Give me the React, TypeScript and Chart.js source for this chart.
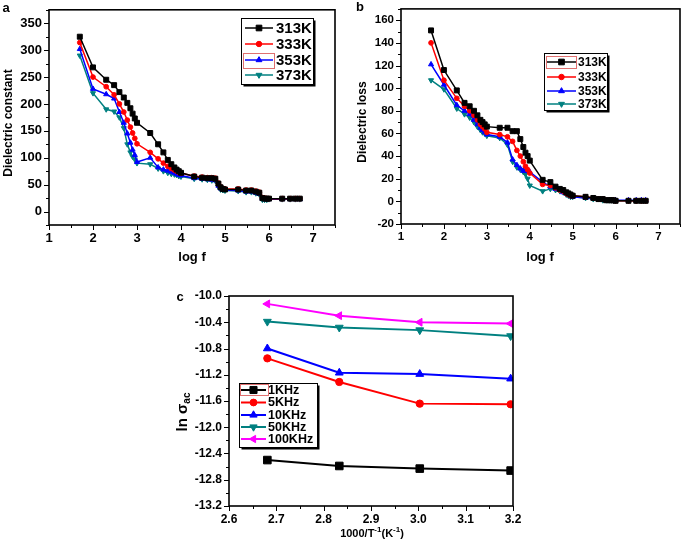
import React, { useEffect, useRef } from "react";
import { Chart, registerables } from "chart.js";
Chart.register(...registerables);

const FF = "'Liberation Sans', Arial, Helvetica, sans-serif";

// ---------- data ----------
const logF = [1.70, 2.00, 2.30, 2.48, 2.60, 2.70, 2.78, 2.85, 2.90, 2.95, 3.00, 3.30, 3.48, 3.60, 3.70, 3.78, 3.85, 3.90, 3.95, 4.00, 4.30, 4.48, 4.60, 4.70, 4.78, 4.85, 4.90, 4.95, 5.00, 5.30, 5.48, 5.60, 5.70, 5.78, 5.85, 5.90, 5.95, 6.00, 6.30, 6.48, 6.60, 6.70];

const dc313 = [325, 268, 245, 235, 222, 212, 202, 192, 182, 173, 165, 146, 125, 110, 96, 88, 82, 78, 75, 72, 65, 63, 62, 62, 61, 52, 45, 42, 41, 41, 39, 39, 37, 35, 25, 24, 24, 24, 24, 24, 24, 24];
const dc333 = [314, 250, 232, 217, 200, 185, 170, 157, 146, 136, 126, 110, 98, 90, 84, 80, 77, 75, 73, 71, 66, 64, 63, 63, 62, 53, 46, 43, 42, 42, 40, 40, 38, 36, 26, 25, 24, 24, 24, 24, 24, 24];
const dc353 = [302, 228, 218, 210, 185, 165, 145, 128, 115, 105, 92, 100, 82, 78, 76, 74, 72, 70, 68, 67, 62, 61, 60, 59, 58, 48, 43, 41, 40, 39, 37, 37, 35, 33, 24, 23, 23, 23, 23, 23, 23, 23];
const dc373 = [290, 220, 190, 186, 175, 155, 125, 110, 102, 97, 90, 88, 80, 75, 72, 70, 69, 68, 66, 65, 61, 60, 59, 58, 57, 46, 41, 40, 39, 38, 36, 36, 34, 32, 22, 22, 22, 23, 23, 23, 23, 23];

const dl313 = [151, 116, 98, 87, 84, 80, 76, 72, 70, 68, 66, 65, 65, 62, 62, 55, 48, 43, 40, 36, 19, 17, 13, 11, 10, 8, 7, 6, 5, 4, 3, 2, 2, 1, 1, 1, 1, 0.5, 0.5, 0.5, 0.5, 0.5];
const dl333 = [140, 107, 91, 84, 80, 76, 72, 68, 66, 64, 61, 59, 57, 53, 45, 40, 35, 31, 28, 25, 15, 14, 12, 10, 9, 7, 6, 5, 5, 4, 3, 2, 2, 1, 1, 1, 1, 0.5, 0.5, 0.5, 0.5, 0.5];
const dl353 = [121, 103, 85, 80, 77, 72, 68, 65, 63, 61, 59, 57, 52, 37, 32, 29, 27, 27, 27, 26, 17, 13, 11, 10, 8, 7, 6, 5, 4, 3, 3, 2, 2, 1, 1, 1, 1, 1, 1, 1, 1, 1];
const dl373 = [107, 99, 82, 77, 74, 70, 66, 63, 61, 60, 58, 56, 50, 35, 30, 28, 26, 24, 20, 14, 9, 11, 10, 9, 8, 6, 5, 4, 4, 3, 2, 2, 1, 1, 1, 1, 1, 0.5, 0.5, 0.5, 0.5, 0.5];

const tempLabels = ["313K", "333K", "353K", "373K"];

const invT = [2.681, 2.833, 3.003, 3.195];
const ac1k = [-12.50, -12.59, -12.63, -12.66];
const ac5k = [-10.95, -11.31, -11.64, -11.65];
const ac10k = [-10.80, -11.17, -11.19, -11.26];
const ac50k = [-10.39, -10.48, -10.52, -10.61];
const ac100k = [-10.12, -10.30, -10.40, -10.42];
const freqLabels = ["1KHz", "5KHz", "10KHz", "50KHz", "100KHz"];

// ---------- styles ----------
const COLORS4 = ["#000000", "#ff0000", "#0000ff", "#008080"];
const STYLES4: [string, number][] = [["rect", 0], ["circle", 0], ["triangle", 0], ["triangle", 180]];
const COLORS5 = ["#000000", "#ff0000", "#0000ff", "#008080", "#ff00ff"];
const STYLES5: [string, number][] = [["rect", 0], ["circle", 0], ["triangle", 0], ["triangle", 180], ["triangle", 270]];
const STYLE_SCALE: Record<string, number> = { rect: 1.25, circle: 0.85, triangle: 1.05 };

type Seg = { t: string; size: number; dy?: number };
type TextItem = { segs: Seg[]; x: number; y: number; rot?: number };
type LegendCfg = {
  box: [number, number, number, number];
  rows: number[];
  x0: number;
  x1: number;
  textX: number;
  fontSize: number;
  lw: number;
  r: number;
  hl?: [number, number, number, number];
};
type DecorCfg = { texts: TextItem[]; legend: LegendCfg };

function drawRich(ctx: CanvasRenderingContext2D, segs: Seg[], x: number, y: number, rot: number) {
  ctx.save();
  ctx.translate(x, y);
  ctx.rotate(rot);
  ctx.textBaseline = "middle";
  ctx.textAlign = "left";
  let total = 0;
  const widths = segs.map((s) => {
    ctx.font = `bold ${s.size}px ${FF}`;
    const w = ctx.measureText(s.t).width;
    total += w;
    return w;
  });
  let cx = -total / 2;
  segs.forEach((s, i) => {
    ctx.font = `bold ${s.size}px ${FF}`;
    ctx.fillStyle = "#000";
    ctx.fillText(s.t, cx, s.dy || 0);
    cx += widths[i];
  });
  ctx.restore();
}

function marker(ctx: CanvasRenderingContext2D, style: string, rotDeg: number, x: number, y: number, r: number, color: string) {
  ctx.save();
  ctx.fillStyle = color;
  ctx.strokeStyle = color;
  ctx.lineWidth = 1;
  ctx.beginPath();
  if (style === "rect") {
    const s = r * Math.SQRT1_2;
    ctx.rect(x - s, y - s, 2 * s, 2 * s);
  } else if (style === "circle") {
    ctx.arc(x, y, r, 0, Math.PI * 2);
  } else {
    let rad = (rotDeg * Math.PI) / 180;
    ctx.moveTo(x + Math.sin(rad) * r, y - Math.cos(rad) * r);
    rad += (2 * Math.PI) / 3;
    ctx.lineTo(x + Math.sin(rad) * r, y - Math.cos(rad) * r);
    rad += (2 * Math.PI) / 3;
    ctx.lineTo(x + Math.sin(rad) * r, y - Math.cos(rad) * r);
    ctx.closePath();
  }
  ctx.fill();
  ctx.stroke();
  ctx.restore();
}

function decor(cfg: DecorCfg) {
  return {
    id: "decor",
    afterDraw(chart: any) {
      const ctx: CanvasRenderingContext2D = chart.ctx;
      const { left, right, top, bottom } = chart.chartArea;
      ctx.save();
      // ticks
      ctx.strokeStyle = "#000";
      ctx.lineWidth = 1;
      const xs = chart.scales.x;
      const ys = chart.scales.y;
      xs.ticks.forEach((t: any) => {
        const px = Math.round(xs.getPixelForValue(t.value)) + 0.5;
        const len = t.label !== "" ? 5 : 3;
        ctx.beginPath();
        ctx.moveTo(px, bottom);
        ctx.lineTo(px, bottom + len);
        ctx.stroke();
      });
      ys.ticks.forEach((t: any) => {
        const py = Math.round(ys.getPixelForValue(t.value)) + 0.5;
        const len = t.label !== "" ? 5 : 3;
        ctx.beginPath();
        ctx.moveTo(left, py);
        ctx.lineTo(left - len, py);
        ctx.stroke();
      });
      // frame
      ctx.lineWidth = 1.6;
      ctx.strokeRect(left, top, right - left, bottom - top);

      // legend
      const L = cfg.legend;
      const [bx, by, bw, bh] = L.box;
      ctx.fillStyle = "#000";
      ctx.fillRect(bx + 2.5, by + 2.5, bw, bh);
      ctx.fillStyle = "#fff";
      ctx.fillRect(bx, by, bw, bh);
      ctx.strokeStyle = "#000";
      ctx.lineWidth = 1;
      ctx.strokeRect(bx + 0.5, by + 0.5, bw, bh);
      chart.data.datasets.forEach((ds: any, i: number) => {
        const ry = L.rows[i];
        ctx.strokeStyle = ds.borderColor;
        ctx.lineWidth = L.lw;
        ctx.beginPath();
        ctx.moveTo(L.x0, ry);
        ctx.lineTo(L.x1, ry);
        ctx.stroke();
        const rr = L.r * (STYLE_SCALE[ds.pointStyle] || 1);
        marker(ctx, ds.pointStyle, ds.pointRotation || 0, (L.x0 + L.x1) / 2, ry, rr, ds.borderColor);
        ctx.fillStyle = "#000";
        ctx.font = `bold ${L.fontSize}px ${FF}`;
        ctx.textBaseline = "middle";
        ctx.textAlign = "left";
        ctx.fillText(ds.label, L.textX, ry + 0.5);
      });
      if (L.hl) {
        ctx.strokeStyle = "#e07070";
        ctx.lineWidth = 1;
        ctx.strokeRect(L.hl[0] + 0.5, L.hl[1] + 0.5, L.hl[2], L.hl[3]);
      }
      // texts
      cfg.texts.forEach((t) => drawRich(ctx, t.segs, t.x, t.y, t.rot || 0));
      ctx.restore();
    },
  };
}

function isMult(v: number, step: number) {
  const q = v / step;
  return Math.abs(q - Math.round(q)) < 1e-6;
}

type PanelSpec = {
  xs: number[];
  series: number[][];
  labels: string[];
  colors: string[];
  styles: [string, number][];
  pointRadius: number;
  lineWidth: number;
  xMin: number; xMax: number; xStep: number; xMajor: number; xDec: number;
  yMin: number; yMax: number; yStep: number; yMajor: number; yDec: number;
  yWidth: number; xHeight: number;
  padding: { top: number; right: number; left: number; bottom: number };
  tickFont: number;
  decor: DecorCfg;
};

function buildConfig(p: PanelSpec): any {
  const datasets = p.series.map((ys, i) => ({
    label: p.labels[i],
    data: p.xs.map((x, j) => ({ x, y: ys[j] })),
    borderColor: p.colors[i],
    backgroundColor: p.colors[i],
    pointStyle: p.styles[i][0],
    pointRotation: p.styles[i][1],
    pointRadius: p.pointRadius * (STYLE_SCALE[p.styles[i][0]] || 1),
    pointBorderWidth: 1,
    borderWidth: p.lineWidth,
    tension: 0,
    fill: false,
  }));
  const tickFont = { family: FF, size: p.tickFont, weight: "bold" as const };
  return {
    type: "line",
    data: { datasets },
    options: {
      responsive: false,
      animation: false,
      events: [],
      layout: { padding: p.padding },
      plugins: { legend: { display: false }, tooltip: { enabled: false } },
      scales: {
        x: {
          type: "linear",
          min: p.xMin,
          max: p.xMax,
          afterFit: (s: any) => { s.height = p.xHeight; },
          ticks: {
            stepSize: p.xStep,
            autoSkip: false,
            maxRotation: 0,
            minRotation: 0,
            padding: 1,
            color: "#000",
            font: tickFont,
            callback: (v: number) => (isMult(v, p.xMajor) ? Number(v).toFixed(p.xDec) : ""),
          },
          grid: { drawOnChartArea: false, tickLength: 5, tickColor: "rgba(0,0,0,0)" },
          border: { display: false },
        },
        y: {
          type: "linear",
          min: p.yMin,
          max: p.yMax,
          afterFit: (s: any) => { s.width = p.yWidth; },
          ticks: {
            stepSize: p.yStep,
            autoSkip: false,
            padding: 2,
            color: "#000",
            font: tickFont,
            callback: (v: number) => (isMult(v, p.yMajor) ? Number(v).toFixed(p.yDec) : ""),
          },
          grid: { drawOnChartArea: false, tickLength: 5, tickColor: "rgba(0,0,0,0)" },
          border: { display: false },
        },
      },
    },
    plugins: [decor(p.decor)],
  };
}

const panelA: PanelSpec = {
  xs: logF,
  series: [dc313, dc333, dc353, dc373],
  labels: tempLabels,
  colors: COLORS4,
  styles: STYLES4,
  pointRadius: 2.8,
  lineWidth: 1.5,
  xMin: 1, xMax: 7.5, xStep: 0.5, xMajor: 1, xDec: 0,
  yMin: -25, yMax: 375, yStep: 25, yMajor: 50, yDec: 0,
  yWidth: 49, xHeight: 45,
  padding: { top: 7, right: 5, left: 0, bottom: 0 },
  tickFont: 13,
  decor: {
    texts: [
      { segs: [{ t: "a", size: 13 }], x: 6, y: 8 },
      { segs: [{ t: "Dielectric constant", size: 12 }], x: 9, y: 123, rot: -Math.PI / 2 },
      { segs: [{ t: "log f", size: 13 }], x: 192, y: 257 },
    ],
    legend: {
      box: [241, 18, 72, 66],
      rows: [28, 44, 60, 75],
      x0: 245, x1: 273, textX: 276, fontSize: 15, lw: 1.5, r: 3.2,
      hl: [243, 53, 31, 15],
    },
  },
};

const panelB: PanelSpec = {
  xs: logF,
  series: [dl313, dl333, dl353, dl373],
  labels: tempLabels,
  colors: COLORS4,
  styles: STYLES4,
  pointRadius: 2.8,
  lineWidth: 1.5,
  xMin: 1, xMax: 7.5, xStep: 0.5, xMajor: 1, xDec: 0,
  yMin: -20, yMax: 170, yStep: 10, yMajor: 20, yDec: 0,
  yWidth: 61, xHeight: 46,
  padding: { top: 7, right: 1, left: 0, bottom: 0 },
  tickFont: 11.5,
  decor: {
    texts: [
      { segs: [{ t: "b", size: 13 }], x: 20, y: 7 },
      { segs: [{ t: "Dielectric loss", size: 12 }], x: 23, y: 122, rot: -Math.PI / 2 },
      { segs: [{ t: "log f", size: 13 }], x: 200, y: 257 },
    ],
    legend: {
      box: [204, 53, 63, 57],
      rows: [62, 77, 91, 104],
      x0: 207, x1: 236, textX: 238, fontSize: 12, lw: 1.5, r: 3.2,
      hl: [206, 56, 30, 12],
    },
  },
};

const panelC: PanelSpec = {
  xs: invT,
  series: [ac1k, ac5k, ac10k, ac50k, ac100k],
  labels: freqLabels,
  colors: COLORS5,
  styles: STYLES5,
  pointRadius: 4.3,
  lineWidth: 2,
  xMin: 2.6, xMax: 3.2, xStep: 0.05, xMajor: 0.1, xDec: 1,
  yMin: -13.2, yMax: -10, yStep: 0.2, yMajor: 0.4, yDec: 1,
  yWidth: 69, xHeight: 41,
  padding: { top: 26, right: 17, left: 0, bottom: 0 },
  tickFont: 12,
  decor: {
    texts: [
      { segs: [{ t: "c", size: 13 }], x: 20, y: 27 },
      { segs: [{ t: "ln σ", size: 15 }, { t: "ac", size: 10, dy: 4 }], x: 23, y: 142, rot: -Math.PI / 2 },
      {
        segs: [
          { t: "1000/T", size: 11 },
          { t: "-1", size: 8, dy: -4 },
          { t: "(K", size: 11 },
          { t: "-1", size: 8, dy: -4 },
          { t: ")", size: 11 },
        ],
        x: 212, y: 264,
      },
    ],
    legend: {
      box: [79, 113, 78, 64],
      rows: [120, 132.5, 145, 157, 169],
      x0: 81, x1: 106, textX: 108, fontSize: 12.5, lw: 2, r: 4,
      hl: [80, 114, 28, 11],
    },
  },
};

function ChartCanvas({ spec, left, top, width, height }: { spec: PanelSpec; left: number; top: number; width: number; height: number }) {
  const ref = useRef<HTMLCanvasElement | null>(null);
  useEffect(() => {
    if (!ref.current) return;
    const chart = new Chart(ref.current, buildConfig(spec));
    return () => chart.destroy();
  }, [spec]);
  return (
    <canvas
      ref={ref}
      width={width}
      height={height}
      style={{ position: "absolute", left, top, width, height, display: "block" }}
    />
  );
}

export default function App() {
  return (
    <div style={{ position: "fixed", left: 0, top: 0, width: 685, height: 547, background: "#fff", overflow: "hidden" }}>
      <ChartCanvas spec={panelA} left={0} top={0} width={340} height={270} />
      <ChartCanvas spec={panelB} left={340} top={0} width={345} height={270} />
      <ChartCanvas spec={panelC} left={160} top={270} width={370} height={277} />
    </div>
  );
}
